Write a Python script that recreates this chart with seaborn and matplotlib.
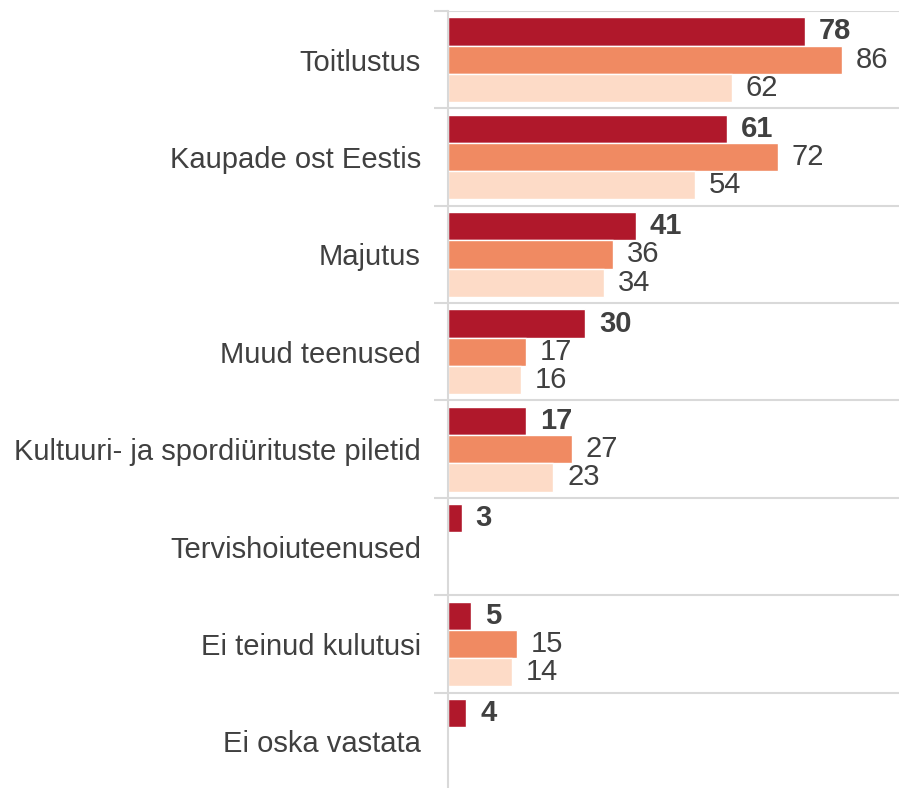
import matplotlib
matplotlib.use("Agg")
import matplotlib.pyplot as plt
import numpy as np
import pandas as pd
import seaborn as sns

categories = ["Toitlustus", "Kaupade ost Eestis", "Majutus", "Muud teenused",
              "Kultuuri- ja spordiürituste piletid", "Tervishoiuteenused",
              "Ei teinud kulutusi", "Ei oska vastata"]
series = ["Seeria 1", "Seeria 2", "Seeria 3"]
values_1 = [78, 61, 41, 30, 17, 3, 5, 4]
values_2 = [86, 72, 36, 17, 27, np.nan, 15, np.nan]
values_3 = [62, 54, 34, 16, 23, np.nan, 14, np.nan]
colors = ["#B0182B", "#F08A62", "#FDDBC7"]

df = pd.DataFrame({
    "kategooria": categories * 3,
    "seeria": np.repeat(series, len(categories)),
    "vaartus": values_1 + values_2 + values_3,
})

sns.set_theme(style="white")
plt.rcParams["font.family"] = ["Liberation Sans", "DejaVu Sans"]
text_col = "#404040"

fig = plt.figure(figsize=(8.99, 7.88), dpi=100)
ax = fig.add_axes([448 / 899, -2 / 788, 1 - 448 / 899, (790 - 11) / 788])

sns.barplot(data=df, y="kategooria", x="vaartus", hue="seeria", orient="h",
            palette=colors, width=0.87, ax=ax, legend=False,
            saturation=1, order=categories, hue_order=series)

for i, cont in enumerate(ax.containers):
    labels = ["" if np.isnan(v) else f"{v:.0f}" for v in cont.datavalues]
    ax.bar_label(cont, labels=labels, padding=10, fontsize=21, color=text_col,
                 fontweight="bold" if i == 0 else "normal")

ax.set_xlim(0, 98.5)
ax.set_ylim(len(categories) - 0.5, -0.5)
ax.set_xlabel("")
ax.set_ylabel("")
ax.set_xticks([])

ax.set_yticks(np.arange(-0.5, len(categories), 1), minor=True)
ax.grid(True, which="minor", axis="y", color="#D9D9D9", linewidth=1.5)
ax.grid(False, which="major")
ax.tick_params(axis="y", which="major", length=0, pad=19.5, labelsize=21,
               labelcolor=text_col)
ax.tick_params(axis="y", which="minor", length=10, width=1.5, color="#D9D9D9", left=True)

for s in ["top", "right", "bottom"]:
    ax.spines[s].set_visible(False)
ax.spines["left"].set_color("#D9D9D9")
ax.spines["left"].set_linewidth(1.5)

fig.savefig("out.png", dpi=100)
